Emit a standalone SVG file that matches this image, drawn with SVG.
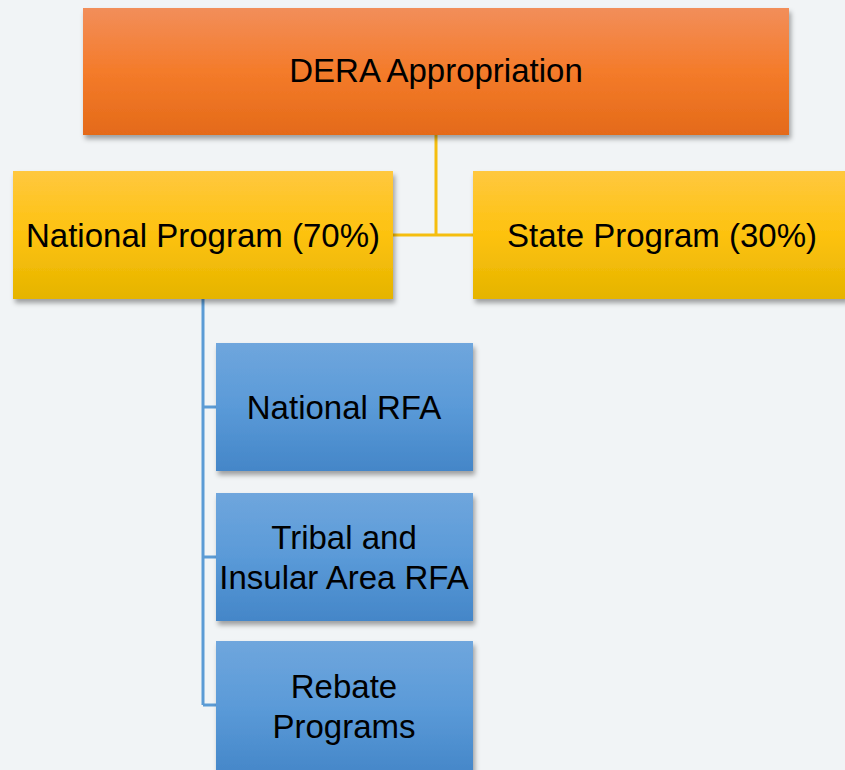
<svg xmlns="http://www.w3.org/2000/svg" width="845" height="770" viewBox="0 0 845 770">
  <defs>
    <linearGradient id="gOrange" x1="0" y1="0" x2="0" y2="1">
      <stop offset="0" stop-color="#F28E5A"/>
      <stop offset="0.5" stop-color="#F47B2A"/>
      <stop offset="1" stop-color="#E46A19"/>
    </linearGradient>
    <linearGradient id="gYellow" x1="0" y1="0" x2="0" y2="1">
      <stop offset="0" stop-color="#FFC83F"/>
      <stop offset="0.5" stop-color="#FDC20E"/>
      <stop offset="1" stop-color="#E5B400"/>
    </linearGradient>
    <linearGradient id="gBlue" x1="0" y1="0" x2="0" y2="1">
      <stop offset="0" stop-color="#6FA6DD"/>
      <stop offset="0.5" stop-color="#5A9AD8"/>
      <stop offset="1" stop-color="#4486C8"/>
    </linearGradient>
    <filter id="shadow" x="-5%" y="-5%" width="115%" height="125%">
      <feDropShadow dx="2" dy="4" stdDeviation="2.5" flood-color="#000" flood-opacity="0.35"/>
    </filter>
  </defs>
  <style>
    .lbl { font-family: "Liberation Sans", Arial, sans-serif; font-size: 33px; fill: #000; text-anchor: middle; }
    .box { filter: url(#shadow); }
    .cy { stroke: #F5BE0F; stroke-width: 3; fill: none; }
    .cb { stroke: #5B9BD5; stroke-width: 3; fill: none; }
  </style>
  <rect width="845" height="770" fill="#F1F4F6"/>

  <g id="connectors">
    <path class="cy" d="M436 135 V235 M393 235 H473"/>
    <path class="cb" d="M203 299 V705 M203 407 H216 M203 557 H216 M203 705 H216"/>
  </g>

  <g id="dera">
    <rect class="box" x="83" y="8" width="706" height="127" fill="url(#gOrange)"/>
    <text class="lbl" x="436" y="82">DERA Appropriation</text>
  </g>
  <g id="national">
    <rect class="box" x="13" y="171" width="380" height="128" fill="url(#gYellow)"/>
    <text class="lbl" x="203" y="247">National Program (70%)</text>
  </g>
  <g id="state">
    <rect class="box" x="473" y="171" width="374" height="128" fill="url(#gYellow)"/>
    <text class="lbl" x="662" y="247">State Program (30%)</text>
  </g>
  <g id="national-rfa">
    <rect class="box" x="216" y="343" width="257" height="128" fill="url(#gBlue)"/>
    <text class="lbl" x="344" y="419">National RFA</text>
  </g>
  <g id="tribal">
    <rect class="box" x="216" y="493" width="257" height="128" fill="url(#gBlue)"/>
    <text class="lbl" x="344" y="549">Tribal and</text>
    <text class="lbl" x="344" y="589">Insular Area RFA</text>
  </g>
  <g id="rebate">
    <rect class="box" x="216" y="641" width="257" height="135" fill="url(#gBlue)"/>
    <text class="lbl" x="344" y="698">Rebate</text>
    <text class="lbl" x="344" y="738">Programs</text>
  </g>
</svg>
